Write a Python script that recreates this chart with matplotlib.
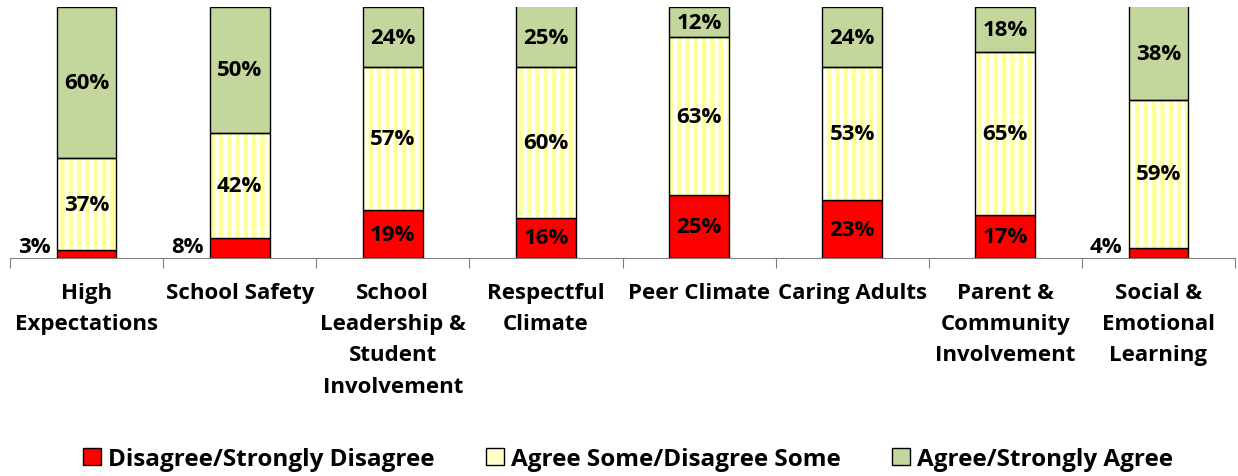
import matplotlib
matplotlib.use("Agg")
import matplotlib.pyplot as plt
import numpy as np
from matplotlib.patches import Patch

categories = ["High\nExpectations", "School Safety", "School\nLeadership &\nStudent\nInvolvement",
              "Respectful\nClimate", "Peer Climate", "Caring Adults",
              "Parent &\nCommunity\nInvolvement", "Social &\nEmotional\nLearning"]
disagree = [3, 8, 19, 16, 25, 23, 17, 4]
agree_some = [37, 42, 57, 60, 63, 53, 65, 59]
agree = [60, 50, 24, 25, 12, 24, 18, 38]
series_names = ["Disagree/Strongly Disagree", "Agree Some/Disagree Some", "Agree/Strongly Agree"]

RED = "#FF0000"
STRIPE = "#FFFF99"
GREEN = "#C3D69B"

plt.rcParams["font.family"] = ["Open Sans", "DejaVu Sans"]
plt.rcParams["font.weight"] = "bold"
plt.rcParams["hatch.linewidth"] = 3.3

W, H = 1238, 477
fig = plt.figure(figsize=(W / 100, H / 100), dpi=100)
ax = fig.add_axes([10 / W, (H - 259) / H, (1235 - 10) / W, (259 - 8) / H])

x = np.arange(len(categories))
bw = 0.39
d = np.array(disagree)
s = np.array(agree_some)
g = np.array(agree)

ax.bar(x, d, bw, color=RED, edgecolor="black", linewidth=1.0, zorder=2)
ax.bar(x, s, bw, bottom=d, color="white", edgecolor=STRIPE, hatch="||", linewidth=0, zorder=2)
ax.bar(x, s, bw, bottom=d, fill=False, edgecolor="black", linewidth=1.0, zorder=3)
ax.bar(x, g, bw, bottom=d + s, color=GREEN, edgecolor="black", linewidth=1.0, zorder=2)

fs = 16
for i in range(len(x)):
    if d[i] >= 10:
        ax.text(x[i], d[i] / 2, f"{d[i]}%", ha="center", va="center", fontsize=fs, fontweight="bold", zorder=5)
    else:
        ax.text(x[i] - bw / 2 - 0.04, 0.3, f"{d[i]}%", ha="right", va="bottom", fontsize=fs, fontweight="bold", zorder=5)
    ax.text(x[i], d[i] + s[i] / 2, f"{s[i]}%", ha="center", va="center", fontsize=fs, fontweight="bold", zorder=5)
    top = min(d[i] + s[i] + g[i], 100)
    ax.text(x[i], (d[i] + s[i] + top) / 2, f"{g[i]}%", ha="center", va="center", fontsize=fs, fontweight="bold", zorder=5)

ax.set_xlim(-0.5, len(x) - 0.5)
ax.set_ylim(0, 100)
for sp in ["top", "right", "left"]:
    ax.spines[sp].set_visible(False)
ax.spines["bottom"].set_color("#808080")
ax.set_yticks([])
ax.set_xticks(np.arange(len(x) + 1) - 0.5)
ax.set_xticklabels([])
ax.tick_params(axis="x", length=7, color="#808080", direction="out")
ax.set_xticks(x, minor=True)
ax.set_xticklabels(categories, minor=True, fontsize=16, fontweight="bold", linespacing=1.65, va="top")
ax.tick_params(axis="x", which="minor", length=0, pad=17)

handles = [Patch(facecolor=RED, edgecolor="black", linewidth=1.0),
           Patch(facecolor="#FFFFCC", edgecolor="black", linewidth=1.0),
           Patch(facecolor=GREEN, edgecolor="black", linewidth=1.0)]
leg = fig.legend(handles, series_names, loc="center", bbox_to_anchor=(628 / W, (H - 460) / H),
                 ncol=3, frameon=False, fontsize=17.5, handlelength=0.75, handleheight=0.75,
                 handletextpad=0.3, columnspacing=2.1)
for t in leg.get_texts():
    t.set_fontweight("bold")

fig.savefig("out.png", dpi=100)
